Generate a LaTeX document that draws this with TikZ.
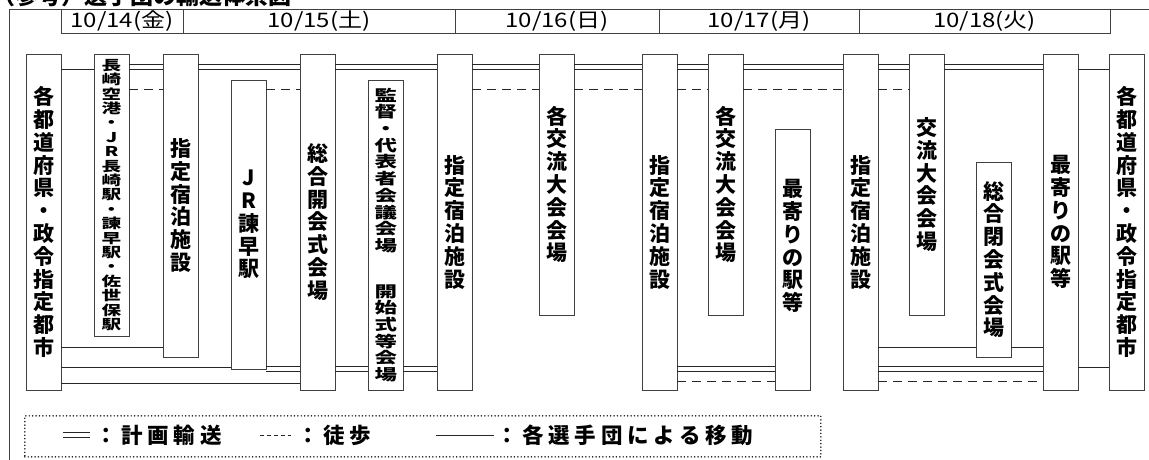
\documentclass[tikz,border=0pt]{standalone}
\usepackage{fontspec}
\setmainfont{Noto Sans CJK JP}
\usetikzlibrary{positioning}

% vertical text: one character per line
\newcommand\tate[1]{\tatefirst#1\relax}
\def\tatefirst#1{#1\tatenext}
\def\tatenext#1{\ifx#1\relax\expandafter\tategobble\else\expandafter\tatestep\fi{#1}}
\def\tatestep#1{\\#1\tatenext}
\def\tategobble#1{}
% flat (wide) vertical text
\newcommand\hiratext[3]{\scalebox{1.45}[1]{\parbox{15pt}{\centering\fontsize{#1}{#2}\selectfont\bfseries #3}}}
\newcommand\daytext[1]{\scalebox{1.2}[1]{#1}}

\newcommand\boxfont{\fontsize{21}{22.8}\selectfont\bfseries}
\newcommand\dayfont{\fontsize{20}{22}\selectfont}
\newcommand\keyfont{\bfseries\fontsize{21.5}{24}\selectfont\addfontfeatures{LetterSpace=22}}

\begin{document}
\begin{tikzpicture}[x=1pt,y=-1pt,
  site/.style={draw=black!75,line width=.9pt,anchor=north west,inner sep=0pt,outer sep=0pt,
    minimum width=35pt,minimum height=#1,align=center,font=\boxfont},
  day/.style={draw=black!75,line width=.9pt,anchor=north west,inner sep=0pt,outer sep=0pt,
    minimum height=24pt,minimum width=#1,font=\dayfont},
  plan/.style={draw=none,
    preaction={draw=black!85,line width=1pt,transform canvas={yshift=2.1pt}},
    postaction={draw=black!85,line width=1pt,transform canvas={yshift=-2.1pt}}},
  walk/.style={draw=black!85,line width=.9pt,dash pattern=on 9pt off 6pt},
  own/.style={draw=black!85,line width=.9pt},
  keytext/.style={anchor=west,inner sep=0pt,font=\keyfont}]
  \useasboundingbox (0,0) rectangle (1149,459);

  \node[anchor=base west,inner sep=0pt,font=\bfseries\fontsize{23}{24}\selectfont] (title) at (-8,4) {（参考）選手団の輸送体系図};
  \draw[black!75,line width=.9pt] (9,480) -- (9,9) -- (1170,9);

  % days
  \node[day=122pt] (d14) at (61,9) {\daytext{10/14(金)}};
  \node[day=272pt,right=0pt of d14] (d15) {\daytext{10/15(土)}};
  \node[day=204pt,right=0pt of d15] (d16) {\daytext{10/16(日)}};
  \node[day=200pt,right=0pt of d16] (d17) {\daytext{10/17(月)}};
  \node[day=251pt,right=0pt of d17] (d18) {\daytext{10/18(火)}};

  \node[site=336] (p1) at (26,54) {\tate{各都道府県・政令指定都市}};
  \node[site=282] (air) at (94,54) {\hiratext{13.5}{14.4}{\tate{長崎空港・JR長崎駅・諫早駅・佐世保駅}}};
  \node[site=303] (h1) at (163,54) {\tate{指定宿泊施設}};
  \node[site=289] (jr) at (231,80) {\tate{JR諫早駅}};
  \node[site=336] (open) at (300,54) {\tate{総合開会式会場}};
  \node[site=310] (meet) at (368,80) {\hiratext{15.5}{16.7}{\tate{監督・代表者会議会場}\\[29pt]\tate{開始式等会場}}};
  \node[site=336] (h2) at (437,54) {\tate{指定宿泊施設}};
  \node[site=261] (v1) at (539,54) {\tate{各交流大会会場}};
  \node[site=336] (h3) at (642,54) {\tate{指定宿泊施設}};
  \node[site=261] (v2) at (708,54) {\tate{各交流大会会場}};
  \node[site=261] (s1) at (775,129) {\tate{最寄りの駅等}\\[6pt]\mbox{}};
  \node[site=336] (h4) at (843,54) {\tate{指定宿泊施設}};
  \node[site=261] (v3) at (909,54) {\tate{交流大会会場}};
  \node[site=195] (close) at (976,162) {\tate{総合閉会式会場}};
  \node[site=336] (s2) at (1043,54) {\tate{最寄りの駅等}};
  \node[site=336] (p2) at (1109,54) {\tate{各都道府県・政令指定都市}};

  \coordinate (up) at (0,67);
  \coordinate (upone) at (0,69);
  \coordinate (upwalk) at (0,89);
  \coordinate (lowA) at (0,347);
  \coordinate (lowB) at (0,367);
  \coordinate (lowdbl) at (0,369);
  \coordinate (lowwalk) at (0,381);
  \coordinate (lowC) at (0,383);

  % top
  \draw (p1.east |- upone) edge[own] (air.west |- upone)
        (air.east |- up) edge[plan] (h1.west |- up)
        (air.east |- upwalk) edge[walk] (h1.west |- upwalk)
        (h1.east |- up) edge[plan] (open.west |- up)
        (jr.east |- upwalk) edge[walk] (open.west |- upwalk)
        (open.east |- up) edge[plan] (h2.west |- up)
        (h2.east |- up) edge[plan] (v1.west |- up)
        (h2.east |- upwalk) edge[walk] (v1.west |- upwalk)
        (v1.east |- up) edge[plan] (h3.west |- up)
        (v1.east |- upwalk) edge[walk] (h3.west |- upwalk)
        (h3.east |- up) edge[plan] (v2.west |- up)
        (h3.east |- upwalk) edge[walk] (v2.west |- upwalk)
        (v2.east |- up) edge[plan] (h4.west |- up)
        (v2.east |- upwalk) edge[walk] (h4.west |- upwalk)
        (h4.east |- up) edge[plan] (v3.west |- up)
        (h4.east |- upwalk) edge[walk] (v3.west |- upwalk)
        (v3.east |- up) edge[plan] (s2.west |- up)
        (s2.east |- upone) edge[own] (p2.west |- upone);
  % bottom
  \draw (p1.east |- lowA) edge[own] (h1.west |- lowA)
        (p1.east |- lowB) edge[own] (jr.west |- lowB)
        (p1.east |- lowC) edge[own] (open.west |- lowC)
        (jr.east |- lowdbl) edge[plan] (open.west |- lowdbl)
        (open.east |- lowdbl) edge[plan] (meet.west |- lowdbl)
        (meet.east |- lowdbl) edge[plan] (h2.west |- lowdbl)
        (h3.east |- lowdbl) edge[plan] (s1.west |- lowdbl)
        (h3.east |- lowwalk) edge[walk] (s1.west |- lowwalk)
        (h4.east |- lowA) edge[own] (close.west |- lowA)
        (close.east |- lowA) edge[own] (s2.west |- lowA)
        (h4.east |- lowdbl) edge[plan] (s2.west |- lowdbl)
        (h4.east |- lowwalk) edge[walk] (s2.west |- lowwalk)
        (s2.east |- lowB) edge[own] (p2.west |- lowB);

  % legend
  \node[draw=black!90,line width=1.7pt,dash pattern=on 0pt off 3.4pt,line cap=round,
    anchor=north west,inner sep=0pt,minimum width=796pt,minimum height=41pt] (key) at (24,415) {};
  \coordinate (k1a) at (63,435);
  \coordinate[right=27pt of k1a] (k1b);
  \node[keytext,right=5pt of k1b] (t1) {：計画輸送};
  \coordinate (k2a) at (260,435);
  \coordinate[right=31pt of k2a] (k2b);
  \node[keytext,right=6pt of k2b] (t2) {：徒歩};
  \coordinate (k3a) at (436,435);
  \coordinate[right=58pt of k3a] (k3b);
  \node[keytext,right=2pt of k3b] (t3) {：各選手団による移動};
  \draw (k1a) edge[plan] (k1b)
        (k2a) edge[own,dash pattern=on 4pt off 3pt] (k2b)
        (k3a) edge[own] (k3b);
\end{tikzpicture}
\end{document}
